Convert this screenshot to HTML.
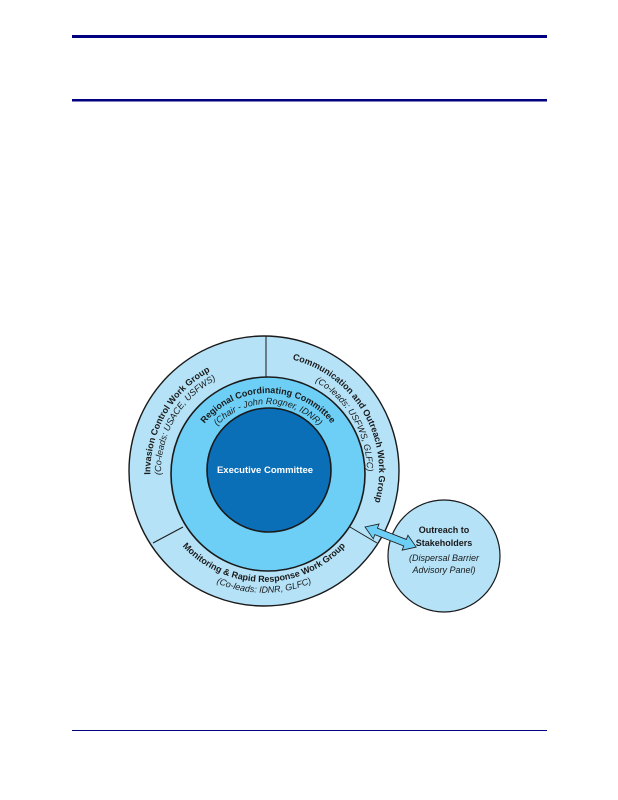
<!DOCTYPE html>
<html><head><meta charset="utf-8"><style>
html,body{margin:0;padding:0;background:#fff;}
svg{display:block;}
text{font-family:"Liberation Sans",sans-serif;}
</style></head><body>
<svg width="618" height="800" viewBox="0 0 618 800" xmlns="http://www.w3.org/2000/svg">
<rect x="72" y="35" width="475" height="3" fill="#000080"/>
<rect x="72" y="99" width="475" height="2.5" fill="#000080"/>
<rect x="72" y="730" width="475" height="1" fill="#000080"/>
<defs>
<path id="lb" d="M182.7,552.3 A115,115 0 0 1 293.8,360.9"/>
<path id="li" d="M191.2,543.8 A103,103 0 0 1 290.7,371.5"/>
<path id="rb" d="M215.4,366.8 A115,115 0 0 1 330.0,565.2"/>
<path id="ri" d="M220.5,377.7 A103,103 0 0 1 323.1,555.4"/>
<path id="bb" d="M154.7,490.3 A111,111 0 0 0 373.3,490.3"/>
<path id="bi" d="M143.9,492.2 A122,122 0 0 0 384.1,492.2"/>
<path id="mb" d="M191.9,446.3 A81,81 0 0 1 344.1,446.3"/>
<path id="mi" d="M202.2,450.1 A70,70 0 0 1 333.8,450.1"/>
</defs>
<circle cx="264" cy="471" r="135" fill="#b5e2f7" stroke="#1a1a1a" stroke-width="1.4"/>
<line x1="266" y1="336" x2="266" y2="378" stroke="#1a1a1a" stroke-width="1"/>
<line x1="153" y1="543" x2="183" y2="527" stroke="#1a1a1a" stroke-width="1"/>
<line x1="350" y1="527" x2="377" y2="543" stroke="#1a1a1a" stroke-width="1"/>
<circle cx="268" cy="474" r="97" fill="#6dcff6" stroke="#1a1a1a" stroke-width="1.6"/>
<circle cx="269" cy="470" r="62" fill="#0b6fb8" stroke="#1a1a1a" stroke-width="1.6"/>
<circle cx="444" cy="556" r="56" fill="#b5e2f7" stroke="#1a1a1a" stroke-width="1.2"/>
<g transform="translate(365,527) rotate(21.4)">
<polygon points="0,0 12,-8 12,-3.5 43,-3.5 43,-8 55,0 43,8 43,3.5 12,3.5 12,8" fill="#6dcff6" stroke="#1a1a1a" stroke-width="0.8"/>
</g>
<g font-size="9" fill="#1a1a1a">
<text font-weight="bold"><textPath href="#lb" startOffset="50%" text-anchor="middle">Invasion Control Work Group</textPath></text>
<text font-style="italic"><textPath href="#li" startOffset="50%" text-anchor="middle">(Co-leads: USACE, USFWS)</textPath></text>
<text font-weight="bold"><textPath href="#rb" startOffset="50%" text-anchor="middle">Communication and Outreach Work Group</textPath></text>
<text font-style="italic"><textPath href="#ri" startOffset="50%" text-anchor="middle">(Co-leads: USFWS, GLFC)</textPath></text>
<text font-weight="bold"><textPath href="#bb" startOffset="50%" text-anchor="middle">Monitoring &amp; Rapid Response Work Group</textPath></text>
<text font-style="italic"><textPath href="#bi" startOffset="50%" text-anchor="middle">(Co-leads: IDNR, GLFC)</textPath></text>
<text font-weight="bold"><textPath href="#mb" startOffset="50%" text-anchor="middle">Regional Coordinating Committee</textPath></text>
<text font-style="italic"><textPath href="#mi" startOffset="50%" text-anchor="middle">(Chair - John Rogner, IDNR)</textPath></text>
</g>
<text x="265" y="473" font-size="9.5" font-weight="bold" fill="#fff" text-anchor="middle">Executive Committee</text>
<g font-size="9" fill="#1a1a1a" text-anchor="middle">
<text x="444" y="533" font-weight="bold">Outreach to</text>
<text x="444" y="546" font-weight="bold">Stakeholders</text>
<text x="444" y="561" font-style="italic">(Dispersal Barrier</text>
<text x="444" y="573" font-style="italic">Advisory Panel)</text>
</g>
</svg>
</body></html>
